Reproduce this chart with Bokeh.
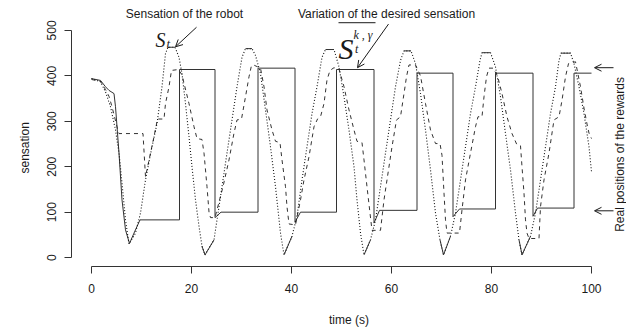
import numpy as np
from bokeh.plotting import figure
from bokeh.models import Range1d, FixedTicker, Label, Arrow, OpenHead, Title
from bokeh.embed import file_html
from bokeh.resources import INLINE

# ---------------- data ----------------
# robot sensation S_t (dotted)
time_sensation = [0, 1.8, 2.8, 3.8, 4.8, 5.5, 6.1, 6.8, 7.5, 8.8, 9.8, 10.8, 12.1, 13.1, 14.1, 14.8,
                  15.3, 16.7, 17.5, 18.1, 18.8, 19.5, 20.1, 20.8, 21.5, 22.1, 22.7, 24.5, 25.1, 26.1,
                  27.1, 28.1, 29.1, 30.1, 30.8, 32.1, 32.8, 33.8, 34.8, 35.8, 36.8, 37.8, 38.5, 40.1,
                  41.1, 42.1, 43.1, 44.1, 45.1, 46.1, 46.8, 48.5, 49.5, 50.5, 51.5, 52.5, 53.1, 53.8,
                  54.5, 55.8, 56.8, 57.8, 58.8, 59.8, 60.8, 61.8, 62.5, 63.9, 64.8, 65.8, 66.8, 67.8,
                  68.8, 69.7, 70.4, 71.8, 72.8, 73.8, 74.8, 75.8, 76.8, 77.7, 78.1, 79.8, 80.8, 81.8,
                  82.8, 83.8, 84.8, 85.5, 86.1, 87.8, 88.8, 89.8, 90.8, 91.8, 92.8, 93.5, 93.9, 95.8,
                  96.5, 97.5, 98.5, 99.5, 100]
sensation = [394, 387, 365, 332, 281, 230, 164, 83, 30, 54, 98, 171, 244, 295, 376, 449,
             463, 463, 441, 405, 339, 266, 200, 127, 69, 25, 6, 39, 83, 156,
             230, 303, 376, 441, 460, 460, 445, 405, 325, 244, 156, 54, 6, 47,
             91, 171, 244, 317, 376, 441, 458, 458, 420, 354, 281, 200, 127, 54,
             6, 39, 83, 156, 230, 303, 376, 434, 455, 455, 427, 361, 281, 193,
             98, 39, 6, 47, 98, 171, 244, 317, 376, 434, 451, 451, 420, 354,
             273, 193, 98, 39, 6, 47, 98, 171, 244, 317, 376, 434, 450, 450,
             427, 376, 317, 244, 189]

# desired sensation (solid)
time_desired = [0, 1.8, 2.8, 3.5, 4.5, 4.8, 5.5, 6.1, 6.8, 7.6, 8.5, 9.7, 17.6, 17.6, 24.7, 24.7,
                25.9, 33.3, 33.3, 40.7, 40.7, 41.8, 49.0, 49.0, 56.5, 56.5, 57.6, 65.1, 65.1, 72.3,
                72.3, 73.6, 80.8, 80.8, 88.3, 88.3, 89.2, 96.5, 96.5, 100]
desired = [394, 390, 376, 368, 361, 332, 230, 127, 61, 31, 54, 83, 83, 414, 414, 88,
           100, 100, 417, 417, 78, 100, 100, 414, 414, 76, 104, 104, 406, 406,
           90, 107, 107, 406, 406, 91, 109, 109, 406, 406]

# variation of the desired sensation (dashed)
time_variation = [0, 1.8, 2.8, 3.5, 4.1, 5.1, 5.5, 10.3, 10.8, 11.8, 12.5, 13.2, 14.5, 14.8, 15.5,
                  16.0, 17.4, 18.1, 19.5, 20.5, 21.1, 22.1, 22.5, 23.1, 23.5, 23.8, 24.7, 26.3,
                  27.5, 28.5, 29.1, 30.0, 30.8, 31.5, 32.0, 32.6, 33.8, 34.5, 35.1, 36.1, 36.8,
                  37.7, 38.1, 38.8, 39.1, 39.5, 40.8, 41.8, 42.5, 43.5, 44.5, 45.2, 45.8, 46.5,
                  47.1, 47.7, 48.5, 49.5, 50.5, 51.5, 52.5, 53.1, 54.1, 54.5, 55.1, 55.7, 56.1,
                  57.8, 58.5, 59.1, 60.1, 61.0, 61.8, 62.5, 63.0, 63.5, 64.8, 65.8, 66.8, 67.8,
                  68.8, 69.7, 70.1, 70.5, 70.8, 71.1, 73.6, 74.1, 74.8, 75.8, 76.8, 77.3, 78.1,
                  78.5, 79.0, 79.5, 80.3, 81.2, 82.1, 83.1, 84.1, 85.1, 85.8, 86.1, 86.5, 86.8,
                  87.1, 87.5, 89.5, 89.8, 90.5, 91.5, 92.5, 93.5, 94.1, 94.8, 95.4, 96.8, 97.8,
                  98.5, 99.1, 99.5, 100]
variation = [392, 388, 370, 355, 332, 288, 273, 273, 178, 230, 266, 305, 305, 339, 376,
             412, 414, 402, 339, 288, 262, 260, 230, 156, 100, 88, 88, 156,
             215, 274, 303, 305, 354, 398, 423, 423, 417, 376, 325, 281, 256,
             253, 215, 156, 112, 74, 72, 127, 171, 222, 288, 305, 310, 339,
             391, 412, 418, 415, 376, 325, 281, 256, 253, 215, 156, 98, 60,
             60, 127, 171, 244, 303, 310, 361, 398, 424, 424, 400, 339, 281,
             251, 251, 225, 142, 83, 54, 54, 105, 171, 230, 288, 310, 310,
             354, 398, 417, 417, 400, 361, 310, 273, 248, 246, 200, 142, 83,
             54, 42, 42, 112, 171, 230, 303, 310, 346, 398, 427, 431, 376,
             329, 294, 274, 262]

x_ticks = [0, 20, 40, 60, 80, 100]
y_ticks = [0, 100, 200, 300, 400, 500]
reward_levels = [418, 103]

# annotation anchors (data units)
ANNOT = dict(
    robot_text=(18.6, 537), robot_arrow=(21.0, 507, 16.8, 464),
    s_main=(12.8, 480), s_sub=(15.0, 471),
    desired_text=(59.0, 537), desired_arrow=(59.4, 514, 53.2, 418),
    sbar_main=(49.4, 460), sbar_sup=(52.4, 489), sbar_sub=(52.7, 460),
    sbar_line=(49.4, 56.8, 517),
    reward_arrow_x=(104.4, 100.6), reward_text=(105.6, 227),
)

INK = "#333333"
TXT = "#1a1a1a"
SANS = "Liberation Sans"
SERIF = "Liberation Serif"

p = figure(width=626, height=329, output_backend="svg", toolbar_location=None,
           x_range=Range1d(-4, 107), y_range=Range1d(-19.6, 565.9),
           min_border_left=71, min_border_right=0, min_border_top=0, min_border_bottom=62,
           background_fill_color="white", border_fill_color="white")
p.outline_line_color = None
p.grid.visible = False

for ax, ticks, bnd in ((p.xaxis[0], x_ticks, (0, 100)), (p.yaxis[0], y_ticks, (0, 500))):
    ax.ticker = FixedTicker(ticks=ticks)
    ax.bounds = bnd
    ax.axis_line_color = INK
    ax.major_tick_line_color = INK
    ax.major_tick_out = 7
    ax.major_tick_in = 0
    ax.minor_tick_out = 0
    ax.minor_tick_in = 0
    ax.major_label_text_font = SANS
    ax.major_label_text_font_size = "12px"
    ax.major_label_text_color = TXT
    ax.axis_label_text_font = SANS
    ax.axis_label_text_font_size = "12px"
    ax.axis_label_text_font_style = "normal"
    ax.axis_label_text_color = TXT

p.xaxis.axis_label = "time (s)"
p.xaxis.major_label_standoff = 10
p.xaxis.axis_label_standoff = 17
p.yaxis.major_label_orientation = "vertical"
p.yaxis.major_label_standoff = 8

# y-axis title, centred on the R plot region rather than the extended frame
p.add_layout(Title(text="sensation", align="left", offset=93, standoff=25,
                   text_font=SANS, text_font_size="12px", text_font_style="normal",
                   text_color=TXT), "left")

# series
p.line(time_desired, desired, line_color=INK, line_width=1)
p.line(time_variation, variation, line_color=INK, line_width=1, line_dash="4 4")
p.line(time_sensation, sensation, line_color="#111111", line_width=1.1, line_dash="1 2")

# saturated tops / trough bottoms of the sensation look solid
ts = np.array(time_sensation, dtype=float)
ss = np.array(sensation, dtype=float)
mask = ((ss[:-1] == ss[1:]) & (ss[:-1] > 400)) | ((ss[:-1] <= 50) & (ss[1:] <= 50))
p.segment(ts[:-1][mask], ss[:-1][mask], ts[1:][mask], ss[1:][mask], line_color=INK, line_width=1)

# annotations
def lab(pos, text, font=SANS, size="12px", style="normal", align="center", baseline="middle", angle=0):
    p.add_layout(Label(x=pos[0], y=pos[1], text=text, text_font=font, text_font_size=size,
                       text_font_style=style, text_align=align, text_baseline=baseline,
                       text_color=TXT, angle=angle))

lab(ANNOT["robot_text"], "Sensation of the robot")
lab(ANNOT["desired_text"], "Variation of the desired sensation")
lab(ANNOT["s_main"], "S", font=SERIF, size="20px", style="italic", align="left", baseline="alphabetic")
lab(ANNOT["s_sub"], "t", font=SERIF, size="13px", style="italic", align="left", baseline="alphabetic")
lab(ANNOT["sbar_main"], "S", font=SERIF, size="30px", style="italic", align="left", baseline="alphabetic")
lab(ANNOT["sbar_sup"], "k , γ", font=SERIF, size="12px", style="italic", align="left", baseline="alphabetic")
lab(ANNOT["sbar_sub"], "t", font=SERIF, size="12px", style="italic", align="left", baseline="alphabetic")
lab(ANNOT["reward_text"], "Real positions of the rewards", angle=np.pi / 2)

x0, x1, yl = ANNOT["sbar_line"]
p.add_layout(Arrow(end=None, x_start=x0, y_start=yl, x_end=x1, y_end=yl, line_color=TXT, line_width=1))

for key in ("robot_arrow", "desired_arrow"):
    xs, ys, xe, ye = ANNOT[key]
    p.add_layout(Arrow(end=OpenHead(size=7, line_color=TXT, line_width=1),
                       x_start=xs, y_start=ys, x_end=xe, y_end=ye, line_color=TXT, line_width=1))

rx0, rx1 = ANNOT["reward_arrow_x"]
for lvl in reward_levels:
    p.add_layout(Arrow(end=OpenHead(size=7, line_color=TXT, line_width=1),
                       x_start=rx0, y_start=lvl, x_end=rx1, y_end=lvl, line_color=TXT, line_width=1))

open("out.html", "w").write(file_html(p, INLINE))
